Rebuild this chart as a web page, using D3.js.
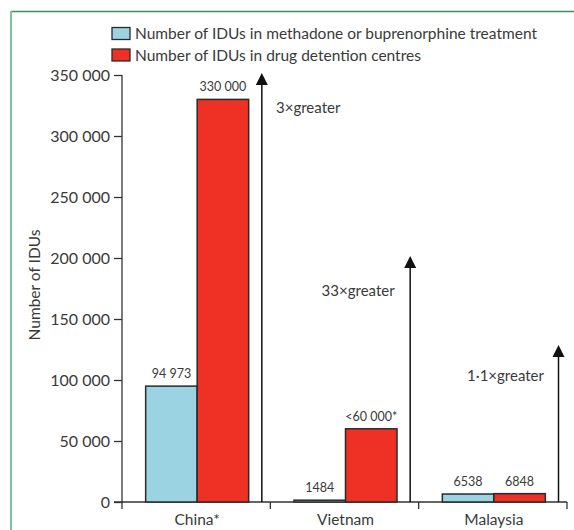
<!DOCTYPE html>
<html>
<head>
<meta charset="utf-8">
<script src="https://cdn.jsdelivr.net/npm/d3@7"></script>
<style>
  body { margin: 0; background: #fff; }
  text { font-family: Lato, "Open Sans", sans-serif; fill: #3a3a3a; }
</style>
</head>
<body>
<svg id="chart" width="574" height="530"></svg>
<script>
const countries = ["China*", "Vietnam", "Malaysia"];
const series = ["Number of IDUs in methadone or buprenorphine treatment", "Number of IDUs in drug detention centres"];
const treatment = [94973, 1484, 6538];
const detention = [330000, 60000, 6848];
const treatmentLabels = ["94 973", "1484", "6538"];
const detentionLabels = ["330 000", "<60 000*", "6848"];
const ratioLabels = ["3×greater", "33×greater", "1·1×greater"];
const arrowTops = [350000, 200000, 127000];
const yTicks = [0, 50000, 100000, 150000, 200000, 250000, 300000, 350000];
const colors = ["#9cd3e3", "#ee3124"];

const svg = d3.select("#chart");

// frame
svg.append("line").attr("x1", 11).attr("x2", 574).attr("y1", 11.5).attr("y2", 11.5)
    .attr("stroke", "#3e8c62").attr("stroke-width", 1.5);
svg.append("line").attr("x1", 11).attr("x2", 11).attr("y1", 11).attr("y2", 530)
    .attr("stroke", "#7cc39c").attr("stroke-width", 2);

const plotLeft = 122, plotRight = 567, plotTop = 75, plotBottom = 502;

const y = d3.scaleLinear().domain([0, 350000]).range([plotBottom, plotTop]);
const x0 = d3.scaleBand().domain(countries).range([plotLeft, plotRight]).padding(0);
const x1 = d3.scaleBand().domain([0, 1]).range([0, x0.bandwidth()]).paddingInner(0).paddingOuter(0.44);

const fmt = d3.formatLocale({ decimal: ".", thousands: " ", grouping: [3] }).format(",d");

// y axis
const yAxis = svg.append("g").attr("transform", `translate(${plotLeft},0)`)
    .call(d3.axisLeft(y).tickValues(yTicks).tickFormat(fmt).tickSize(8).tickPadding(4));
yAxis.select(".domain").remove();
yAxis.selectAll("line").attr("stroke", "#333").attr("stroke-width", 1.3);
yAxis.selectAll("text").style("font-size", "16px").style("fill", "#3a3a3a");
svg.append("line").attr("x1", plotLeft).attr("x2", plotLeft).attr("y1", y(350000)).attr("y2", plotBottom + 7)
    .attr("stroke", "#333").attr("stroke-width", 1.3);

// x axis
svg.append("line").attr("x1", plotLeft - 8).attr("x2", plotRight).attr("y1", plotBottom).attr("y2", plotBottom)
    .attr("stroke", "#333").attr("stroke-width", 1.3);
countries.forEach(c => {
    const xe = x0(c) + x0.step();
    svg.append("line").attr("x1", xe).attr("x2", xe).attr("y1", plotBottom).attr("y2", plotBottom + 7)
        .attr("stroke", "#333").attr("stroke-width", 1.3);
    svg.append("text").attr("x", x0(c) + x0.step() / 2 + 1).attr("y", 525)
        .attr("text-anchor", "middle").style("font-size", "15.5px").text(c);
});

svg.append("text")
    .attr("transform", `translate(40,285) rotate(-90)`)
    .attr("text-anchor", "middle").style("font-size", "15.5px").text("Number of IDUs");

// bars
const rows = countries.map((c, i) => ({ c, vals: [treatment[i], detention[i]], labs: [treatmentLabels[i], detentionLabels[i]] }));
const groups = svg.selectAll(".grp").data(rows).join("g").attr("class", "grp")
    .attr("transform", d => `translate(${x0(d.c) + 1},0)`);
groups.selectAll("rect").data(d => d.vals).join("rect")
    .attr("x", (d, i) => x1(i))
    .attr("width", x1.bandwidth())
    .attr("y", d => y(d))
    .attr("height", d => plotBottom - y(d))
    .attr("fill", (d, i) => colors[i])
    .attr("stroke", "#2a2a2a").attr("stroke-width", 1.5);
groups.selectAll("text.val").data(d => d.vals.map((v, i) => ({ v, lab: d.labs[i] }))).join("text")
    .attr("class", "val")
    .attr("x", (d, i) => x1(i) + x1.bandwidth() / 2)
    .attr("y", d => y(d.v) - 8)
    .attr("text-anchor", "middle").style("font-size", "12.5px")
    .text(d => d.lab);

// arrows
countries.forEach((c, i) => {
    const ax = x0(c) + x0.step() - 8.5;
    const ty = y(arrowTops[i]);
    svg.append("line").attr("x1", ax).attr("x2", ax).attr("y1", plotBottom).attr("y2", ty + 8)
        .attr("stroke", "#111").attr("stroke-width", 1.5);
    svg.append("path").attr("d", `M${ax},${ty - 2}L${ax - 6},${ty + 10}L${ax + 6},${ty + 10}Z`).attr("fill", "#111");
});
svg.append("text").attr("x", 276).attr("y", y(arrowTops[0]) + 38).style("font-size", "15px").text(ratioLabels[0]);
svg.append("text").attr("x", x0("Vietnam") + x0.step() - 24).attr("y", y(arrowTops[1]) + 38)
    .attr("text-anchor", "end").style("font-size", "15px").text(ratioLabels[1]);
svg.append("text").attr("x", x0("Malaysia") + x0.step() - 23).attr("y", y(arrowTops[2]) + 34)
    .attr("text-anchor", "end").style("font-size", "15px").text(ratioLabels[2]);

// legend
series.forEach((s, i) => {
    const ly = 27.5 + i * 21.5;
    svg.append("rect").attr("x", 112).attr("y", ly).attr("width", 18).attr("height", 12)
        .attr("fill", colors[i]).attr("stroke", "#2a2a2a").attr("stroke-width", 1.3);
    svg.append("text").attr("x", 135).attr("y", ly + 11.5).style("font-size", "15.5px").text(s);
});
</script>
</body>
</html>
